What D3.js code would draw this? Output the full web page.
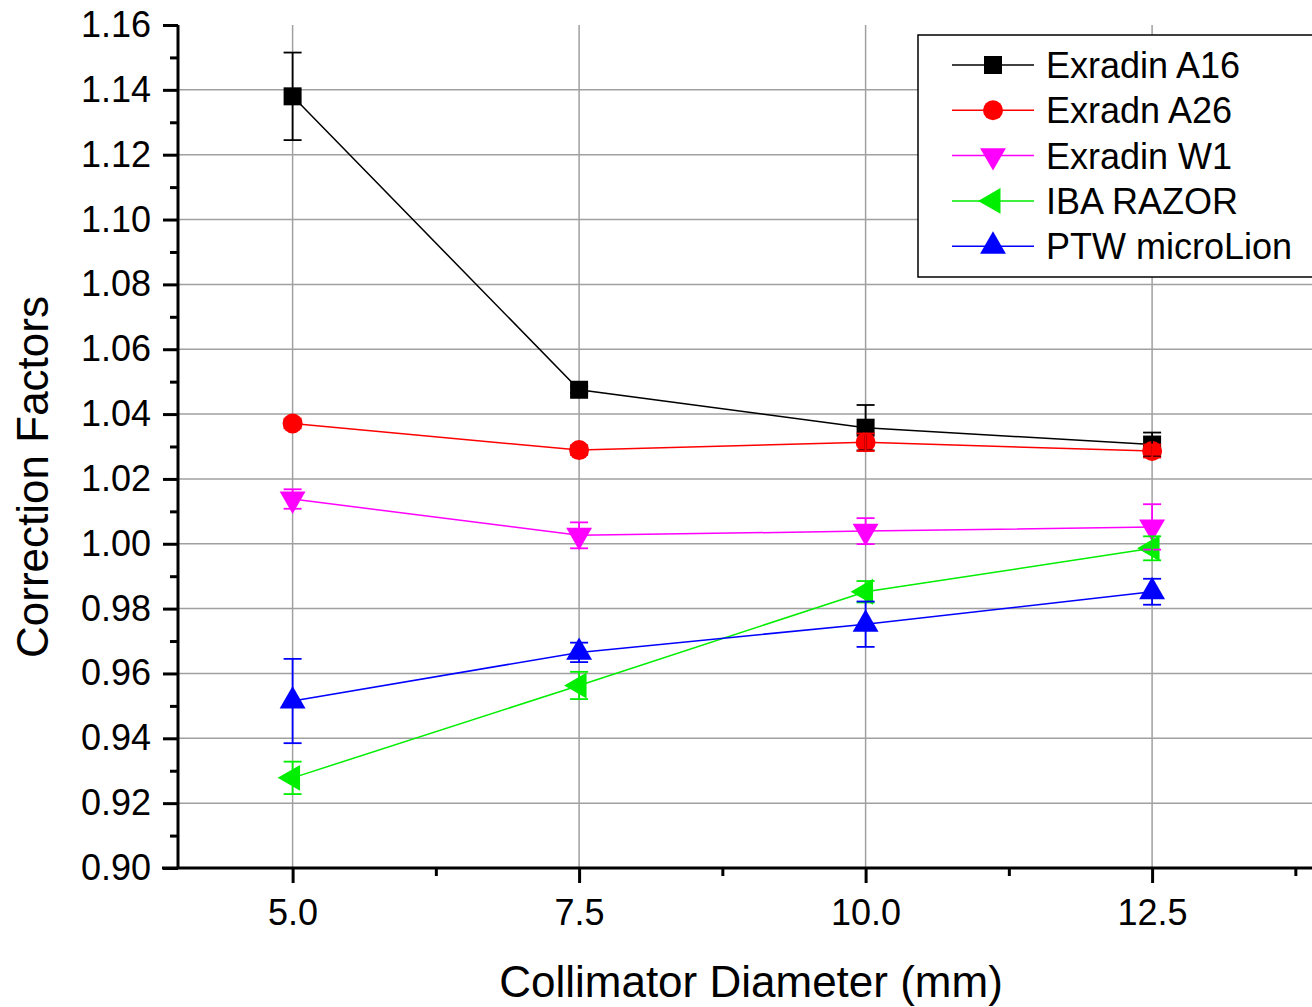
<!DOCTYPE html>
<head>
  <meta charset="utf-8">
  <title>Correction Factors</title>
  <style>
    body {margin: 0; background: #fff;}
    svg {font-family: "Liberation Sans", Arial, sans-serif; display: block;}
    .grid line {stroke: #a0a0a0; stroke-width: 1.5;}
    .axis path, .axis line {stroke: #000; stroke-width: 3; fill: none;}
    .axis text {font-size: 36px; fill: #000;}
    .series-line {fill: none; stroke-width: 1.5;}
  </style>
</head>
<body>
  <svg width="1312" height="1007"></svg>
  <script src="https://cdn.jsdelivr.net/npm/d3@7"></script>
  <script>
    // data
    var diameters = [5.0, 7.5, 10.0, 12.5];
    var seriesNames = ["Exradin A16", "Exradn A26", "Exradin W1", "IBA RAZOR", "PTW microLion"];
    var seriesColors = ["#000000", "#ff0000", "#ff00ff", "#00ee00", "#0000ff"];
    var a16 = [1.1380, 1.0475, 1.0358, 1.0306];
    var a16Err = [0.0135, 0.0010, 0.0070, 0.0037];
    var a26 = [1.0371, 1.0289, 1.0313, 1.0286];
    var a26Err = [0.0015, 0.0015, 0.0027, 0.0020];
    var w1 = [1.0138, 1.0026, 1.0039, 1.0052];
    var w1Err = [0.0030, 0.0040, 0.0040, 0.0070];
    var razor = [0.9278, 0.9563, 0.9852, 0.9986];
    var razorErr = [0.0050, 0.0042, 0.0033, 0.0037];
    var ptw = [0.9515, 0.9665, 0.9752, 0.9852];
    var ptwErr = [0.0130, 0.0030, 0.0070, 0.0040];
    var yTicks = [0.90, 0.92, 0.94, 0.96, 0.98, 1.00, 1.02, 1.04, 1.06, 1.08, 1.10, 1.12, 1.14, 1.16];
    var xTicks = [5.0, 7.5, 10.0, 12.5];

    var values = [a16, a26, w1, razor, ptw];
    var errors = [a16Err, a26Err, w1Err, razorErr, ptwErr];

    var svg = d3.select("svg"),
        margin = {top: 25, left: 178, bottom: 139},
        height = 1007 - margin.top - margin.bottom;

    var g = svg.append("g").attr("transform", "translate(" + margin.left + "," + margin.top + ")");

    var x = d3.scaleLinear().domain([4, 14]).range([0, 1146]);
    var y = d3.scaleLinear().domain([0.90, 1.16]).range([height, 0]);

    // build series objects
    var series = seriesNames.map(function(name, i) {
      return {
        name: name,
        color: seriesColors[i],
        points: diameters.map(function(d, j) { return {x: d, y: values[i][j], e: errors[i][j]}; })
      };
    });

    // gridlines
    g.append("g").attr("class", "grid")
      .selectAll("line").data(yTicks.slice(1, -1))
      .enter().append("line")
        .attr("x1", 0).attr("x2", x(14))
        .attr("y1", function(d) { return y(d); })
        .attr("y2", function(d) { return y(d); });

    g.append("g").attr("class", "grid")
      .selectAll("line").data(xTicks)
      .enter().append("line")
        .attr("x1", function(d) { return x(d); })
        .attr("x2", function(d) { return x(d); })
        .attr("y1", 0).attr("y2", height);

    // axes
    var xAxis = d3.axisBottom(x).tickValues(xTicks).tickSize(15).tickPadding(16).tickSizeOuter(0)
        .tickFormat(d3.format(".1f"));
    var xMinor = d3.axisBottom(x).tickValues([6.25, 8.75, 11.25, 13.75]).tickSize(8).tickFormat("").tickSizeOuter(0);
    var yAxis = d3.axisLeft(y).tickValues(yTicks).tickSize(15).tickPadding(12).tickSizeOuter(0)
        .tickFormat(d3.format(".2f"));
    var yMinor = d3.axisLeft(y).tickValues(d3.range(0.91, 1.16, 0.02)).tickSize(8).tickFormat("").tickSizeOuter(0);

    g.append("g").attr("class", "axis").attr("transform", "translate(0," + height + ")").call(xMinor)
      .select(".domain").remove();
    g.append("g").attr("class", "axis").attr("transform", "translate(0," + height + ")").call(xAxis)
      .select(".domain").attr("d", "M-16,0H" + x(14));
    g.append("g").attr("class", "axis").call(yMinor).select(".domain").remove();
    g.append("g").attr("class", "axis").call(yAxis)
      .select(".domain").attr("d", "M0,0V" + height);

    g.selectAll(".axis").attr("font-family", null).attr("font-size", null);

    // axis titles
    svg.append("text")
      .attr("x", 751).attr("y", 997)
      .attr("text-anchor", "middle")
      .attr("font-size", 44)
      .text("Collimator Diameter (mm)");

    svg.append("text")
      .attr("transform", "translate(48,477) rotate(-90)")
      .attr("text-anchor", "middle")
      .attr("font-size", 44)
      .text("Correction Factors");

    // markers
    var symbolTypes = [d3.symbolSquare, d3.symbolCircle, d3.symbolTriangle, d3.symbolTriangle, d3.symbolTriangle];
    var symbolSizes = [324, 314, 290, 290, 290];
    var symbolRotate = [0, 0, 180, -90, 0];

    function marker(sel, i) {
      sel.attr("d", d3.symbol().type(symbolTypes[i]).size(symbolSizes[i])())
        .attr("fill", seriesColors[i]);
    }

    var line = d3.line()
        .x(function(d) { return x(d.x); })
        .y(function(d) { return y(d.y); });

    series.forEach(function(s, i) {
      var sg = g.append("g").attr("class", "series");
      sg.append("path").attr("class", "series-line")
        .attr("d", line(s.points))
        .attr("stroke", s.color);
      sg.selectAll(".marker").data(s.points)
        .enter().append("path")
          .attr("class", "marker")
          .attr("transform", function(d) {
            return "translate(" + x(d.x) + "," + y(d.y) + ") rotate(" + symbolRotate[i] + ")";
          })
          .call(marker, i);
    });

    // error bars on top
    series.forEach(function(s) {
      var eg = g.append("g").attr("stroke", s.color).attr("stroke-width", 1.8);
      var bars = eg.selectAll("g").data(s.points).enter().append("g");
      bars.append("line")
        .attr("x1", function(d) { return x(d.x); })
        .attr("x2", function(d) { return x(d.x); })
        .attr("y1", function(d) { return y(d.y + d.e); })
        .attr("y2", function(d) { return y(d.y - d.e); });
      [1, -1].forEach(function(sign) {
        bars.append("line")
          .attr("x1", function(d) { return x(d.x) - 9; })
          .attr("x2", function(d) { return x(d.x) + 9; })
          .attr("y1", function(d) { return y(d.y + sign * d.e); })
          .attr("y2", function(d) { return y(d.y + sign * d.e); });
      });
    });

    // legend
    var legend = svg.append("g");
    legend.append("rect")
      .attr("x", 918).attr("y", 35)
      .attr("width", 420).attr("height", 242)
      .attr("fill", "#fff")
      .attr("stroke", "#000").attr("stroke-width", 1.5);

    var item = legend.selectAll(".item").data(series)
      .enter().append("g")
        .attr("class", "item")
        .attr("transform", function(d, i) { return "translate(0," + (65 + i * 45.3) + ")"; });

    item.append("line")
      .attr("x1", 952).attr("x2", 1034)
      .attr("stroke", function(d) { return d.color; })
      .attr("stroke-width", 1.5);

    item.append("path")
      .attr("transform", function(d, i) { return "translate(993,0) rotate(" + symbolRotate[i] + ")"; })
      .each(function(d, i) { d3.select(this).call(marker, i); });

    item.append("text")
      .attr("x", 1046).attr("dy", "0.36em")
      .attr("font-size", 36)
      .text(function(d) { return d.name; });
  </script>
</body>
